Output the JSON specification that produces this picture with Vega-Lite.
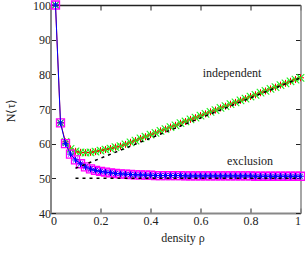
{
  "$schema": "https://vega.github.io/schema/vega-lite/v6.json",
  "autosize": "none",
  "width": 250,
  "height": 208,
  "padding": {"left": 50.5, "top": 5, "right": 4.5, "bottom": 43},
  "background": "white",
  "config": {
    "view": {"stroke": null},
    "font": "Liberation Serif, Times New Roman, serif",
    "axis": {"grid": false, "labelFont": "Liberation Serif, Times New Roman, serif", "titleFont": "Liberation Serif, Times New Roman, serif", "labelFontSize": 12, "titleFontSize": 12, "labelColor": "#222", "titleColor": "#222", "titleFontWeight": "normal", "tickColor": "#222", "tickSize": -5, "tickWidth": 1}
  },
  "datasets": {
    "sim": [
      {"rho": 0.02, "ind": 100, "exc": 100},
      {"rho": 0.04, "ind": 66, "exc": 66},
      {"rho": 0.06, "ind": 60.5, "exc": 60},
      {"rho": 0.08, "ind": 58.5, "exc": 57},
      {"rho": 0.10, "ind": 57.8, "exc": 55.3},
      {"rho": 0.12, "ind": 57.5, "exc": 54.2},
      {"rho": 0.14, "ind": 57.4, "exc": 53.3},
      {"rho": 0.16, "ind": 57.5, "exc": 52.7},
      {"rho": 0.18, "ind": 57.7, "exc": 52.3},
      {"rho": 0.20, "ind": 58.0, "exc": 52.0},
      {"rho": 0.22, "ind": 58.3, "exc": 51.8},
      {"rho": 0.24, "ind": 58.6, "exc": 51.6},
      {"rho": 0.26, "ind": 59.0, "exc": 51.4},
      {"rho": 0.28, "ind": 59.3, "exc": 51.3},
      {"rho": 0.30, "ind": 59.8, "exc": 51.2},
      {"rho": 0.32, "ind": 60.4, "exc": 51.1},
      {"rho": 0.34, "ind": 60.9, "exc": 51.0},
      {"rho": 0.36, "ind": 61.5, "exc": 51.0},
      {"rho": 0.38, "ind": 62.0, "exc": 50.9},
      {"rho": 0.40, "ind": 62.6, "exc": 50.9},
      {"rho": 0.42, "ind": 63.1, "exc": 50.8},
      {"rho": 0.44, "ind": 63.7, "exc": 50.8},
      {"rho": 0.46, "ind": 64.2, "exc": 50.8},
      {"rho": 0.48, "ind": 64.8, "exc": 50.8},
      {"rho": 0.50, "ind": 65.3, "exc": 50.8},
      {"rho": 0.52, "ind": 65.9, "exc": 50.8},
      {"rho": 0.54, "ind": 66.4, "exc": 50.7},
      {"rho": 0.56, "ind": 67.0, "exc": 50.7},
      {"rho": 0.58, "ind": 67.5, "exc": 50.7},
      {"rho": 0.60, "ind": 68.1, "exc": 50.7},
      {"rho": 0.62, "ind": 68.6, "exc": 50.7},
      {"rho": 0.64, "ind": 69.2, "exc": 50.7},
      {"rho": 0.66, "ind": 69.7, "exc": 50.7},
      {"rho": 0.68, "ind": 70.3, "exc": 50.7},
      {"rho": 0.70, "ind": 70.8, "exc": 50.7},
      {"rho": 0.72, "ind": 71.4, "exc": 50.7},
      {"rho": 0.74, "ind": 71.9, "exc": 50.7},
      {"rho": 0.76, "ind": 72.5, "exc": 50.7},
      {"rho": 0.78, "ind": 73.0, "exc": 50.7},
      {"rho": 0.80, "ind": 73.6, "exc": 50.7},
      {"rho": 0.82, "ind": 74.1, "exc": 50.6},
      {"rho": 0.84, "ind": 74.7, "exc": 50.6},
      {"rho": 0.86, "ind": 75.2, "exc": 50.6},
      {"rho": 0.88, "ind": 75.8, "exc": 50.6},
      {"rho": 0.90, "ind": 76.3, "exc": 50.6},
      {"rho": 0.92, "ind": 76.9, "exc": 50.6},
      {"rho": 0.94, "ind": 77.4, "exc": 50.6},
      {"rho": 0.96, "ind": 78.0, "exc": 50.6},
      {"rho": 0.98, "ind": 78.5, "exc": 50.6},
      {"rho": 1.00, "ind": 79.0, "exc": 50.6}
    ],
    "theory": [
      {"rho": 0.1, "ind": 52.9, "exc": 50},
      {"rho": 1.0, "ind": 79.0, "exc": 50}
    ],
    "labels": [
      {"rho": 0.726, "y": 80.4, "text": "independent"},
      {"rho": 0.798, "y": 55.0, "text": "exclusion"}
    ]
  },
  "resolve": {"axis": {"x": "independent", "y": "independent"}},
  "layer": [
    {
      "data": {"name": "sim"},
      "mark": {"type": "line", "color": "#ff0000", "strokeWidth": 1},
      "encoding": {
        "x": {"field": "rho", "type": "quantitative", "scale": {"domain": [0, 1]},
              "axis": {"orient": "bottom", "title": "density ρ", "values": [0, 0.2, 0.4, 0.6, 0.8, 1], "format": "~g", "labelPadding": 7, "domainColor": "#888", "domainWidth": 2, "titleX": 132, "titlePadding": 6}},
        "y": {"field": "ind", "type": "quantitative", "scale": {"domain": [40, 100]},
              "axis": {"orient": "left", "title": "N⟨τ⟩", "values": [40, 50, 60, 70, 80, 90, 100], "labelPadding": 5, "domainColor": "#888", "domainWidth": 2, "titleX": -33, "titleY": 105}}
      }
    },
    {
      "data": {"name": "sim"},
      "mark": {"type": "point", "shape": "M-1,0L1,0M0,-1L0,1", "filled": false, "color": "#ff0000", "size": 49, "strokeWidth": 1, "opacity": 1},
      "encoding": {
        "x": {"field": "rho", "type": "quantitative", "axis": {"orient": "top", "labels": false, "title": null, "values": [0, 0.2, 0.4, 0.6, 0.8, 1], "domainColor": "#222", "domainWidth": 1.5}},
        "y": {"field": "ind", "type": "quantitative", "axis": {"orient": "right", "labels": false, "title": null, "values": [40, 50, 60, 70, 80, 90, 100], "domainColor": "#888", "domainWidth": 1.5}}
      }
    },
    {
      "data": {"name": "sim"},
      "mark": {"type": "point", "shape": "M-1,-1L1,1M-1,1L1,-1", "filled": false, "color": "#22f022", "size": 56, "strokeWidth": 1.1, "opacity": 1},
      "encoding": {
        "x": {"field": "rho", "type": "quantitative", "axis": null},
        "y": {"field": "ind", "type": "quantitative", "axis": null}
      }
    },
    {
      "data": {"name": "sim"},
      "mark": {"type": "point", "shape": "square", "filled": false, "color": "#ff00ff", "size": 64, "strokeWidth": 1.3, "opacity": 1},
      "encoding": {
        "x": {"field": "rho", "type": "quantitative", "axis": null},
        "y": {"field": "exc", "type": "quantitative", "axis": null}
      }
    },
    {
      "data": {"name": "sim"},
      "mark": {"type": "line", "color": "#0000ff", "strokeWidth": 1},
      "encoding": {
        "x": {"field": "rho", "type": "quantitative", "axis": null},
        "y": {"field": "exc", "type": "quantitative", "axis": null}
      }
    },
    {
      "data": {"name": "sim"},
      "mark": {"type": "point", "shape": "M-1,0L1,0M0,-1L0,1M-0.7,-0.7L0.7,0.7M-0.7,0.7L0.7,-0.7", "filled": false, "color": "#0000ff", "size": 42, "strokeWidth": 1, "opacity": 1},
      "encoding": {
        "x": {"field": "rho", "type": "quantitative", "axis": null},
        "y": {"field": "exc", "type": "quantitative", "axis": null}
      }
    },
    {
      "data": {"name": "theory"},
      "mark": {"type": "line", "color": "#000000", "strokeWidth": 1.5, "strokeDash": [3, 4]},
      "encoding": {
        "x": {"field": "rho", "type": "quantitative", "axis": null},
        "y": {"field": "ind", "type": "quantitative", "axis": null}
      }
    },
    {
      "data": {"name": "theory"},
      "mark": {"type": "line", "color": "#000000", "strokeWidth": 1.5, "strokeDash": [3, 4]},
      "encoding": {
        "x": {"field": "rho", "type": "quantitative", "axis": null},
        "y": {"field": "exc", "type": "quantitative", "axis": null}
      }
    },
    {
      "data": {"name": "labels"},
      "mark": {"type": "text", "font": "Liberation Serif, Times New Roman, serif", "fontSize": 12, "color": "#222", "align": "center", "baseline": "middle"},
      "encoding": {
        "x": {"field": "rho", "type": "quantitative", "axis": null},
        "y": {"field": "y", "type": "quantitative", "axis": null},
        "text": {"field": "text"}
      }
    }
  ]
}
